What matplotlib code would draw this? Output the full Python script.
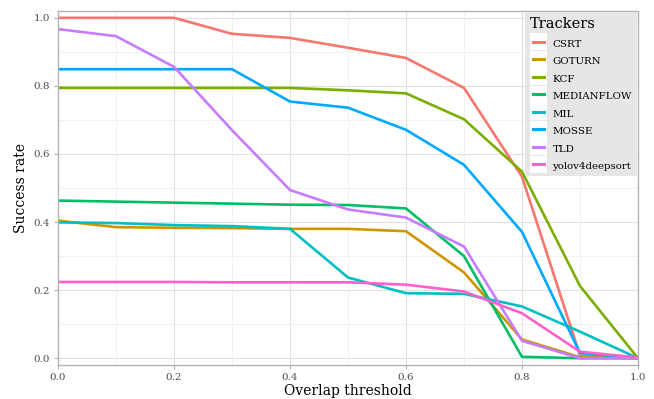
import matplotlib
matplotlib.use("Agg")
import matplotlib.pyplot as plt
from matplotlib.legend_handler import HandlerBase
from matplotlib.patches import Rectangle
from matplotlib.lines import Line2D
import numpy as np

plt.rcParams['font.family'] = ['DejaVu Serif']

thresholds = [0.0, 0.1, 0.2, 0.3, 0.4, 0.5, 0.6, 0.7, 0.8, 0.9, 1.0]
trackers = ['CSRT', 'GOTURN', 'KCF', 'MEDIANFLOW', 'MIL', 'MOSSE', 'TLD', 'yolov4deepsort']
colors = ['#F8766D', '#CD9600', '#7CAE00', '#00BE67', '#00BFC4', '#00A9FF', '#C77CFF', '#FF61CC']

csrt = [1.0, 1.0, 1.0, 0.953, 0.941, 0.912, 0.882, 0.794, 0.533, 0.008, 0.0]
goturn = [0.404, 0.385, 0.383, 0.382, 0.380, 0.380, 0.373, 0.252, 0.055, 0.003, 0.0]
kcf = [0.794, 0.794, 0.794, 0.794, 0.794, 0.787, 0.778, 0.702, 0.548, 0.212, 0.0]
medianflow = [0.463, 0.460, 0.457, 0.454, 0.451, 0.450, 0.440, 0.300, 0.004, 0.0, 0.0]
mil = [0.399, 0.397, 0.391, 0.388, 0.380, 0.237, 0.191, 0.189, 0.152, 0.078, 0.0]
mosse = [0.849, 0.849, 0.849, 0.849, 0.754, 0.736, 0.671, 0.568, 0.371, 0.015, 0.0]
tld = [0.967, 0.946, 0.856, 0.670, 0.494, 0.437, 0.413, 0.328, 0.051, 0.0, 0.0]
yolo = [0.224, 0.224, 0.224, 0.223, 0.223, 0.223, 0.216, 0.196, 0.132, 0.019, 0.002]
series = [csrt, goturn, kcf, medianflow, mil, mosse, tld, yolo]


class KeyHandler(HandlerBase):
    # white key box behind a line, like ggplot legend keys
    def create_artists(self, legend, orig, xd, yd, w, h, fs, trans):
        bg = Rectangle((xd, yd - 3), w, h + 6, facecolor='white', edgecolor='none', transform=trans)
        ln = Line2D([xd + 2, xd + w - 2], [yd + h / 2, yd + h / 2], color=orig.get_color(),
                    lw=2.2, transform=trans)
        return [bg, ln]


fig = plt.figure(figsize=(6.54, 3.99), dpi=100)
ax = fig.add_axes([58 / 654, 1 - 365 / 399, 580 / 654, 354 / 399])

handles = []
for name, vals, c in zip(trackers, series, colors):
    h, = ax.plot(thresholds, vals, color=c, lw=1.9, label=name, solid_joinstyle='round')
    handles.append(h)

ax.set_xlim(0, 1)
ax.set_ylim(-0.02, 1.02)
ax.set_xticks([0, 0.2, 0.4, 0.6, 0.8, 1.0])
ax.set_yticks([0, 0.2, 0.4, 0.6, 0.8, 1.0])
ax.set_xticks(np.arange(0.1, 1.0, 0.2), minor=True)
ax.set_yticks(np.arange(0.1, 1.0, 0.2), minor=True)
ax.grid(True, which='major', color='#e0e0e0', lw=0.8)
ax.grid(True, which='minor', color='#efefef', lw=0.6)
ax.set_axisbelow(True)
for s in ax.spines.values():
    s.set_color('#b3b3b3')
    s.set_linewidth(1.0)
ax.tick_params(which='major', colors='#b3b3b3', labelcolor='#4d4d4d', labelsize=7.5, length=3,
               pad=2.5)
ax.tick_params(which='minor', length=0)
ax.set_xticklabels(['0.0', '0.2', '0.4', '0.6', '0.8', '1.0'])
ax.set_yticklabels(['0.0', '0.2', '0.4', '0.6', '0.8', '1.0'])
ax.set_xlabel('Overlap threshold', fontsize=10, labelpad=2)
ax.set_ylabel('Success rate', fontsize=10, labelpad=4)

leg = ax.legend(handles=handles, title='Trackers', loc='upper right',
                handler_map={Line2D: KeyHandler()}, fontsize=7.4, title_fontsize=10.5,
                frameon=True, fancybox=False, borderaxespad=0.1, handlelength=1.6,
                handleheight=0.9, labelspacing=0.75, handletextpad=0.55, borderpad=0.5)
leg.get_frame().set_facecolor('#e6e6e6')
leg.get_frame().set_edgecolor('none')
leg.get_frame().set_alpha(1)
leg._legend_box.align = 'left'

fig.savefig('out.png', dpi=100)
